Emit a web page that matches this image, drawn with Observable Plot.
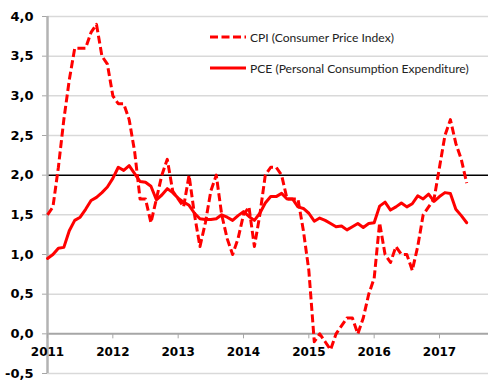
<!DOCTYPE html>
<html><head><meta charset="utf-8">
<script src="https://cdn.jsdelivr.net/npm/d3@7"></script>
<script src="https://cdn.jsdelivr.net/npm/@observablehq/plot@0.6"></script>
<style>
body{margin:0;background:#fff;}
#wrap{position:relative;width:491px;height:389px;}
.lg{position:absolute;left:210px;height:14px;font-family:Lato;font-size:12.1px;color:#222;display:flex;align-items:center;white-space:nowrap}
.lg svg{margin-right:4px}
</style></head><body>
<div id="wrap"></div>
<script>
const startYear = 2011;
const yearTicks = [2011, 2012, 2013, 2014, 2015, 2016, 2017];
const yTicks = [-0.5, 0, 0.5, 1, 1.5, 2, 2.5, 3, 3.5, 4];
const seriesNames = ["CPI (Consumer Price Index)", "PCE (Personal Consumption Expenditure)"];
// monthly values, first point drawn at the 2011 tick
const cpi = [1.5, 1.6, 2.1, 2.7, 3.2, 3.6, 3.6, 3.6, 3.8, 3.9, 3.5, 3.4,
  3.0, 2.9, 2.9, 2.7, 2.3, 1.7, 1.7, 1.4, 1.7, 2.0, 2.2, 1.8,
  1.7, 1.6, 2.0, 1.5, 1.1, 1.4, 1.8, 2.0, 1.5, 1.2, 1.0, 1.2,
  1.5, 1.6, 1.1, 1.5, 2.0, 2.1, 2.1, 2.0, 1.7, 1.7, 1.7, 1.3,
  0.8, -0.1, 0.0, -0.1, -0.2, 0.0, 0.1, 0.2, 0.2, 0.0, 0.2, 0.5,
  0.7, 1.4, 1.0, 0.9, 1.1, 1.0, 1.0, 0.8, 1.1, 1.5, 1.6, 1.7,
  2.1, 2.5, 2.7, 2.4, 2.2, 1.9];
const pce = [0.95, 1.00, 1.08, 1.09, 1.30, 1.43, 1.47, 1.57, 1.68, 1.72, 1.78, 1.85,
  1.96, 2.10, 2.06, 2.12, 2.02, 1.92, 1.91, 1.86, 1.69, 1.75, 1.83, 1.78,
  1.71, 1.66, 1.62, 1.52, 1.45, 1.44, 1.44, 1.45, 1.50, 1.47, 1.43, 1.49,
  1.54, 1.48, 1.43, 1.52, 1.65, 1.73, 1.73, 1.77, 1.70, 1.70, 1.60, 1.58,
  1.52, 1.42, 1.46, 1.43, 1.39, 1.35, 1.36, 1.31, 1.35, 1.39, 1.34, 1.39,
  1.40, 1.61, 1.66, 1.56, 1.60, 1.65, 1.60, 1.64, 1.74, 1.70, 1.76, 1.67,
  1.73, 1.78, 1.77, 1.57, 1.49, 1.40];

const W = 491, H = 389, mt = 16, mb = 16, ml = 47, mr = 3;
const rows = cpi.map((v, i) => ({t: startYear + i / 12, cpi: v, pce: pce[i]}));
const yMin = yTicks[0], yMax = yTicks[yTicks.length - 1];
const zeroShift = -(H - mt - mb) * (0 - yMin) / (yMax - yMin);

const chart = Plot.plot({
  width: W, height: H, marginTop: mt, marginBottom: mb, marginLeft: ml, marginRight: mr,
  style: {fontFamily: "DejaVu Sans", background: "#fff"},
  x: {domain: [2011, 2017.75]},
  y: {domain: [yMin, yMax]},
  marks: [
    Plot.ruleY(yTicks.filter(d => d !== 0 && d !== 2), {stroke: "#d9d9d9", strokeWidth: 1.5}),
    Plot.ruleY([2], {stroke: "#000", strokeWidth: 1.5}),
    Plot.ruleY([0], {stroke: "#a6a6a6", strokeWidth: 2}),
    Plot.axisY({ticks: yTicks, tickFormat: d => d.toFixed(1).replace(".", ","), tickSize: 5, tickPadding: 9,
      stroke: "#a6a6a6", fill: "#000", fontWeight: "bold", fontSize: 13, label: null}),
    Plot.ruleX([2011], {stroke: "#b3b3b3", strokeWidth: 2.5}),
    Plot.axisX({ticks: yearTicks, tickFormat: d => String(d), tickSize: 5, tickPadding: 9, dy: zeroShift,
      stroke: "#a6a6a6", fill: "#000", fontWeight: "bold", fontSize: 12, label: null}),
    Plot.line(rows, {x: "t", y: "pce", stroke: "#ff0000", strokeWidth: 3}),
    Plot.line(rows, {x: "t", y: "cpi", stroke: "#ff0000", strokeWidth: 3, strokeDasharray: "8,3.5", strokeLinecap: "butt"})
  ]
});
const wrap = document.getElementById("wrap");
wrap.appendChild(chart);

const legendTops = [30, 61];
seriesNames.forEach((name, i) => {
  const row = document.createElement("div");
  row.className = "lg";
  row.style.top = legendTops[i] + "px";
  const dash = i === 0 ? 'stroke-dasharray="8,3.5"' : "";
  row.innerHTML = `<svg width="36" height="6"><line x1="0" y1="3" x2="36" y2="3" stroke="#ff0000" stroke-width="3" ${dash}/></svg>`;
  const s = document.createElement("span");
  s.textContent = name;
  row.appendChild(s);
  wrap.appendChild(row);
});
</script>
</body></html>
